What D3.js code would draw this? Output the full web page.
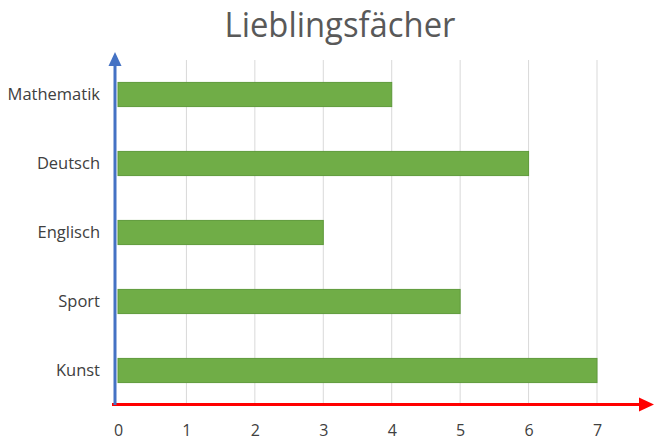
<!DOCTYPE html>
<html>
<head>
<meta charset="utf-8">
<script src="https://cdn.jsdelivr.net/npm/d3@7"></script>
<style>
  body { margin: 0; background: #fff; }
  text { font-family: "Open Sans", sans-serif; }
</style>
</head>
<body>
<svg id="chart" width="660" height="442"></svg>
<script>
const subjects = ["Mathematik", "Deutsch", "Englisch", "Sport", "Kunst"];
const votes = [4, 6, 3, 5, 7];
const xTicks = [0, 1, 2, 3, 4, 5, 6, 7];
const title = "Lieblingsfächer";

const svg = d3.select("#chart");
const plotLeft = 118, plotRight = 597, plotTop = 60, plotBottom = 405;

const x = d3.scaleLinear().domain([0, 7]).range([plotLeft, plotRight]);
const y = d3.scaleBand().domain(subjects).range([plotTop, plotBottom]).paddingInner(0.65).paddingOuter(0.325);

svg.append("text")
  .attr("x", 340).attr("y", 37)
  .attr("text-anchor", "middle")
  .attr("font-size", 34)
  .attr("fill", "#595959")
  .attr("textLength", 231)
  .attr("lengthAdjust", "spacingAndGlyphs")
  .text(title);

// gridlines
svg.append("g")
  .selectAll("line")
  .data(xTicks.slice(1))
  .join("line")
  .attr("x1", d => x(d)).attr("x2", d => x(d))
  .attr("y1", plotTop).attr("y2", 404)
  .attr("stroke", "#d9d9d9").attr("stroke-width", 1);

// bars
svg.append("g")
  .selectAll("rect")
  .data(subjects)
  .join("rect")
  .attr("x", x(0))
  .attr("y", d => y(d))
  .attr("width", (d, i) => x(votes[i]) - x(0))
  .attr("height", y.bandwidth())
  .attr("fill", "#70ad47")
  .attr("stroke", "#5f9a3b")
  .attr("stroke-width", 1);

// x tick labels
const xAxis = svg.append("g")
  .attr("transform", "translate(0,430)")
  .call(d3.axisBottom(x).tickValues(xTicks).tickFormat(d3.format("d")).tickSize(0).tickPadding(0));
xAxis.select(".domain").remove();
xAxis.selectAll("text")
  .attr("font-size", 16).attr("fill", "#404040")
  .attr("dy", "0.35em").attr("y", 0);

// y category labels
const yAxis = svg.append("g")
  .attr("transform", "translate(100,0)")
  .call(d3.axisLeft(y).tickSize(0).tickPadding(0));
yAxis.select(".domain").remove();
yAxis.selectAll("text")
  .attr("font-size", 16.5).attr("fill", "#404040");

// red x arrow
svg.append("line")
  .attr("x1", 112).attr("x2", 641)
  .attr("y1", 404.5).attr("y2", 404.5)
  .attr("stroke", "#ff0000").attr("stroke-width", 3);
svg.append("path")
  .attr("d", "M639,397.5 L654,404.5 L639,411.5 Z")
  .attr("fill", "#ff0000");

// blue y arrow
svg.append("line")
  .attr("x1", 115).attr("x2", 115)
  .attr("y1", 405).attr("y2", 64)
  .attr("stroke", "#4472c4").attr("stroke-width", 3);
svg.append("path")
  .attr("d", "M108.5,66 L115,52 L121.5,66 Z")
  .attr("fill", "#4472c4");
</script>
</body>
</html>
